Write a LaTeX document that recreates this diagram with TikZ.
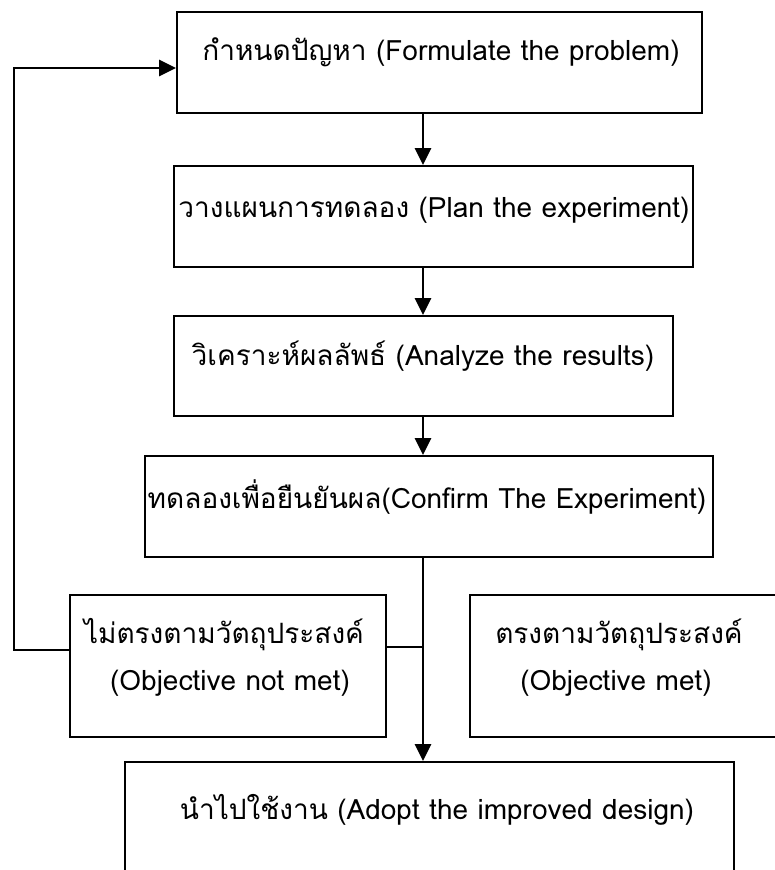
\documentclass[tikz,border=0pt]{standalone}
\usepackage{fontspec}
\setmainfont[Script=Thai]{Loma}
\usetikzlibrary{arrows.meta}
\begin{document}
\begin{tikzpicture}[x=1pt,y=-1pt,
  box/.style={draw, line width=1.8pt, inner sep=0pt},
  lbl/.style={font=\fontsize{28}{32}\selectfont, inner sep=0pt, anchor=center},
  conn/.style={line width=2.8pt},
  arr/.style={conn, -{Triangle[length=17pt,width=16pt]}}]
\useasboundingbox (0,0) rectangle (775,870);
\clip (0,0) rectangle (775,870);
\fill[white] (0,0) rectangle (775,870);
% boxes
\node[box, minimum width=525pt, minimum height=101pt] (b1) at (439.5,62.5) {};
\node[box, minimum width=519pt, minimum height=101pt] (b2) at (433.5,216.5) {};
\node[box, minimum width=499pt, minimum height=100pt] (b3) at (423.5,366) {};
\node[box, minimum width=568pt, minimum height=101pt] (b4) at (429,506.5) {};
\node[box, minimum width=316pt, minimum height=142pt] (nm) at (228,666) {};
\node[box, minimum width=320pt, minimum height=142pt] (m) at (630,666) {};
\node[box, minimum width=609pt, minimum height=138pt] (b5) at (429.5,831) {};
% texts
\node[lbl] (t1) at (441,52) {กำหนดปัญหา (Formulate the problem)};
\node[lbl] (t2) at (434,210) {วางแผนการทดลอง (Plan the experiment)};
\node[lbl] (t3) at (423,356) {วิเคราะห์ผลลัพธ์ (Analyze the results)};
\node[lbl] (t4) at (427,497) {ทดลองเพื่อยืนยันผล(Confirm The Experiment)};
\node[lbl] (t5a) at (224,635) {ไม่ตรงตามวัตถุประสงค์};
\node[lbl] (t5b) at (230,683) {(Objective not met)};
\node[lbl] (t6a) at (619,635) {ตรงตามวัตถุประสงค์};
\node[lbl] (t6b) at (616,683) {(Objective met)};
\node[lbl] (t7) at (437,810) {นำไปใช้งาน (Adopt the improved design)};
% connectors
\coordinate (spine) at (423,0);
\coordinate (lp) at (14,0);
\coordinate (b1in) at ([yshift=-5.5pt]b1.west);
\coordinate (nmo) at ([yshift=16pt]nm.west);
\coordinate (nmj) at ([yshift=19pt]nm.east);
\draw[arr] (b1.south -| spine) -- (b2.north -| spine);
\draw[arr] (b2.south -| spine) -- (b3.north -| spine);
\draw[arr] (b3.south -| spine) -- (b4.north -| spine);
\draw[arr] (b4.south -| spine) -- (b5.north -| spine);
\draw[conn] (nmj) -- (nmj -| spine);
\draw[arr] (nmo) -| (lp |- b1in) -- (b1in);
\end{tikzpicture}
\end{document}
